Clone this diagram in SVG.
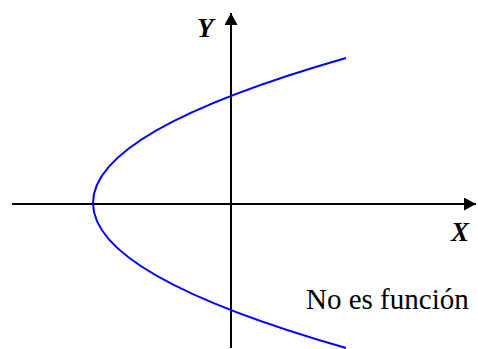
<svg xmlns="http://www.w3.org/2000/svg" width="478" height="349" viewBox="0 0 478 349">
<style>
.axis{stroke:#000;stroke-width:2;fill:none}
.curve{stroke:#0000ff;stroke-width:2;fill:none}
.lbl{font-family:"Liberation Serif","Times New Roman",serif;font-weight:bold;font-style:italic;font-size:27px;fill:#000}
.txt{font-family:"Liberation Serif","Times New Roman",serif;font-size:29px;fill:#000}
</style>
<defs>
<marker id="arr" markerWidth="12" markerHeight="13" refX="12" refY="6.5" orient="auto" markerUnits="userSpaceOnUse">
<path d="M0,0 L12,6.5 L0,13 Z" fill="#000"/>
</marker>
</defs>
<g id="connectors">
<line id="x-axis" class="axis" x1="12" y1="204" x2="476" y2="204" marker-end="url(#arr)"/>
<line id="y-axis" class="axis" x1="231" y1="348" x2="231" y2="13" marker-end="url(#arr)"/>
</g>
<g id="curve">
<path class="curve" d="M346,58 Q-160,203 346,348"/>
</g>
<g id="label-y"><text class="lbl" x="197" y="37">Y</text></g>
<g id="label-x"><text class="lbl" x="451" y="241">X</text></g>
<g id="note"><text class="txt" x="306" y="309">No es función</text></g>
</svg>
